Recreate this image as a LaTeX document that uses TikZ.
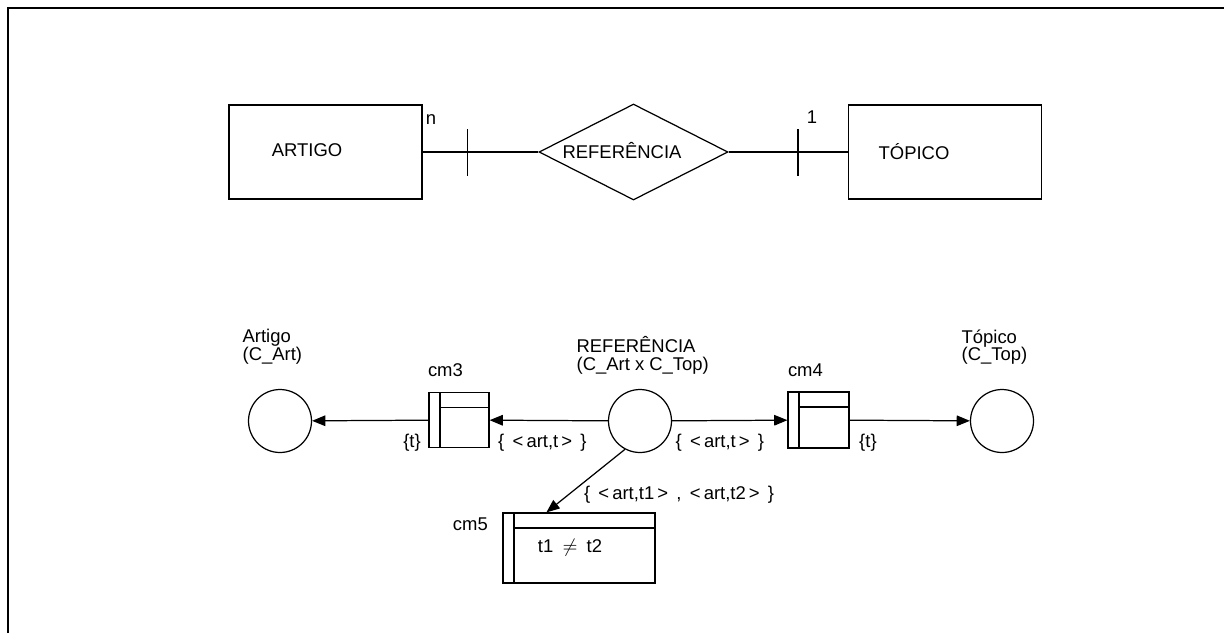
\documentclass[tikz,border=0pt]{standalone}
\usepackage{fontspec}
\setmainfont{Liberation Sans}
\usepackage{amsmath}
\usetikzlibrary{arrows.meta, positioning, shapes.geometric, calc}
\newcommand{\lblfont}{\fontsize{10.5}{10}\selectfont}
\newcommand{\gp}{\hspace{0.45em}}

\begin{document}
\begin{tikzpicture}[
  x=0.02cm, y=-0.02cm,
  entity/.style={draw, minimum width=3.86cm, minimum height=1.88cm},
  relat/.style={draw, diamond, aspect=2, inner sep=0pt, minimum width=3.78cm, minimum height=1.92cm},
  place/.style={draw, circle, minimum size=1.26cm, inner sep=0pt},
  cond/.style={draw, inner sep=0pt, path picture={
      \draw ([xshift=0.22cm]path picture bounding box.north west) -- ([xshift=0.22cm]path picture bounding box.south west);
      \draw ([xshift=0.22cm, yshift=-0.3cm]path picture bounding box.north west) -- ([yshift=-0.3cm]path picture bounding box.north east);
  }},
  txt/.style={inner sep=0pt, font=\lblfont, align=left},
  >={Triangle[length=7.5pt, width=6pt]}, line width=0.7pt
]
\useasboundingbox (0,0) rectangle (1224,633);
% moldura
\draw[line width=1.5pt] (8,633) -- (8,8) -- (1224,8);

% modelo ER
\node[entity] (artigo) at (325.5,152) {};
\node[relat] (refer) at (633.5,152) {};
\node[entity] (topico) at (945,152) {};
\node[txt] (artigoT) at (307,150) {ARTIGO};
\node[txt] (referT) at (622,151) {REFERÊNCIA};
\node[txt] (topicoT) at (914,152) {TÓPICO};
\node[txt] (cardN) at (431,120) {n};
\node[txt] (card1) at (812,117) {1};
\coordinate (tickA) at ($(artigo.east)+(45,0)$);
\coordinate (tickB) at ($(topico.west)+(-50,0)$);

\draw (artigo) -- (refer);
\draw (refer)  -- (topico);
\draw (tickA) ++(0,-23) -- ++(0,47);
\draw (tickB) ++(0,-23) -- ++(0,47);

% rede de Petri
\node[place] (pArt) at (280,421) {};
\node[place] (pRef) at (640,421) {};
\node[place] (pTop) at (1002,421) {};
\node[cond, minimum width=1.2cm, minimum height=1.1cm] (cm3) at (459,420) {};
\node[cond, minimum width=1.22cm, minimum height=1.12cm] (cm4) at (818.5,420) {};
\node[cond, minimum width=3.04cm, minimum height=1.4cm] (cm5) at (579,548) {};

\node[txt, anchor=north west] (pArtT) at (242,329) {Artigo\\(C\_Art)};
\node[txt, anchor=north west] (pRefT) at (576,336) {REFERÊNCIA\\(C\_Art x C\_Top)};
\node[txt, anchor=north west] (pTopT) at (961,329) {Tópico\\(C\_Top)};
\node[txt, anchor=base west] (cm3T) at ($(cm3.north west)+(-1,-15)$) {cm3};
\node[txt, anchor=base west] (cm4T) at ($(cm4.north west)+(0,-15)$) {cm4};
\node[txt, anchor=base east] (cm5T) at ($(cm5.north west)+(-14,18)$) {cm5};
\node[txt] (guard) at (570,548) {t1\hspace{0.5em}$\neq$\hspace{0.5em}t2};

% arcos
\draw[->] (cm3) -- node[txt, pos=0, below left=0.26cm and 0.14cm]{\{t\}} (pArt);
\draw[->] (pRef) -- node[txt, pos=1, below right=0.26cm and 0.16cm]{\{\gp<\thinspace art,t\thinspace>\gp\}} (cm3);
\draw[->] (pRef) -- node[txt, pos=0, below right=0.26cm and 0.06cm]{\{\gp<\thinspace art,t\thinspace>\gp\}} (cm4);
\draw[->] (cm4) -- node[txt, pos=0, below right=0.26cm and 0.18cm]{\{t\}} (pTop);
\draw[->] (pRef.242) -- node[txt, pos=0.72, right=0.3cm]{\{\gp<\thinspace art,t1\thinspace>\gp,\gp<\thinspace art,t2\thinspace>\gp\}} ([xshift=0.88cm]cm5.north west);

\end{tikzpicture}
\end{document}
